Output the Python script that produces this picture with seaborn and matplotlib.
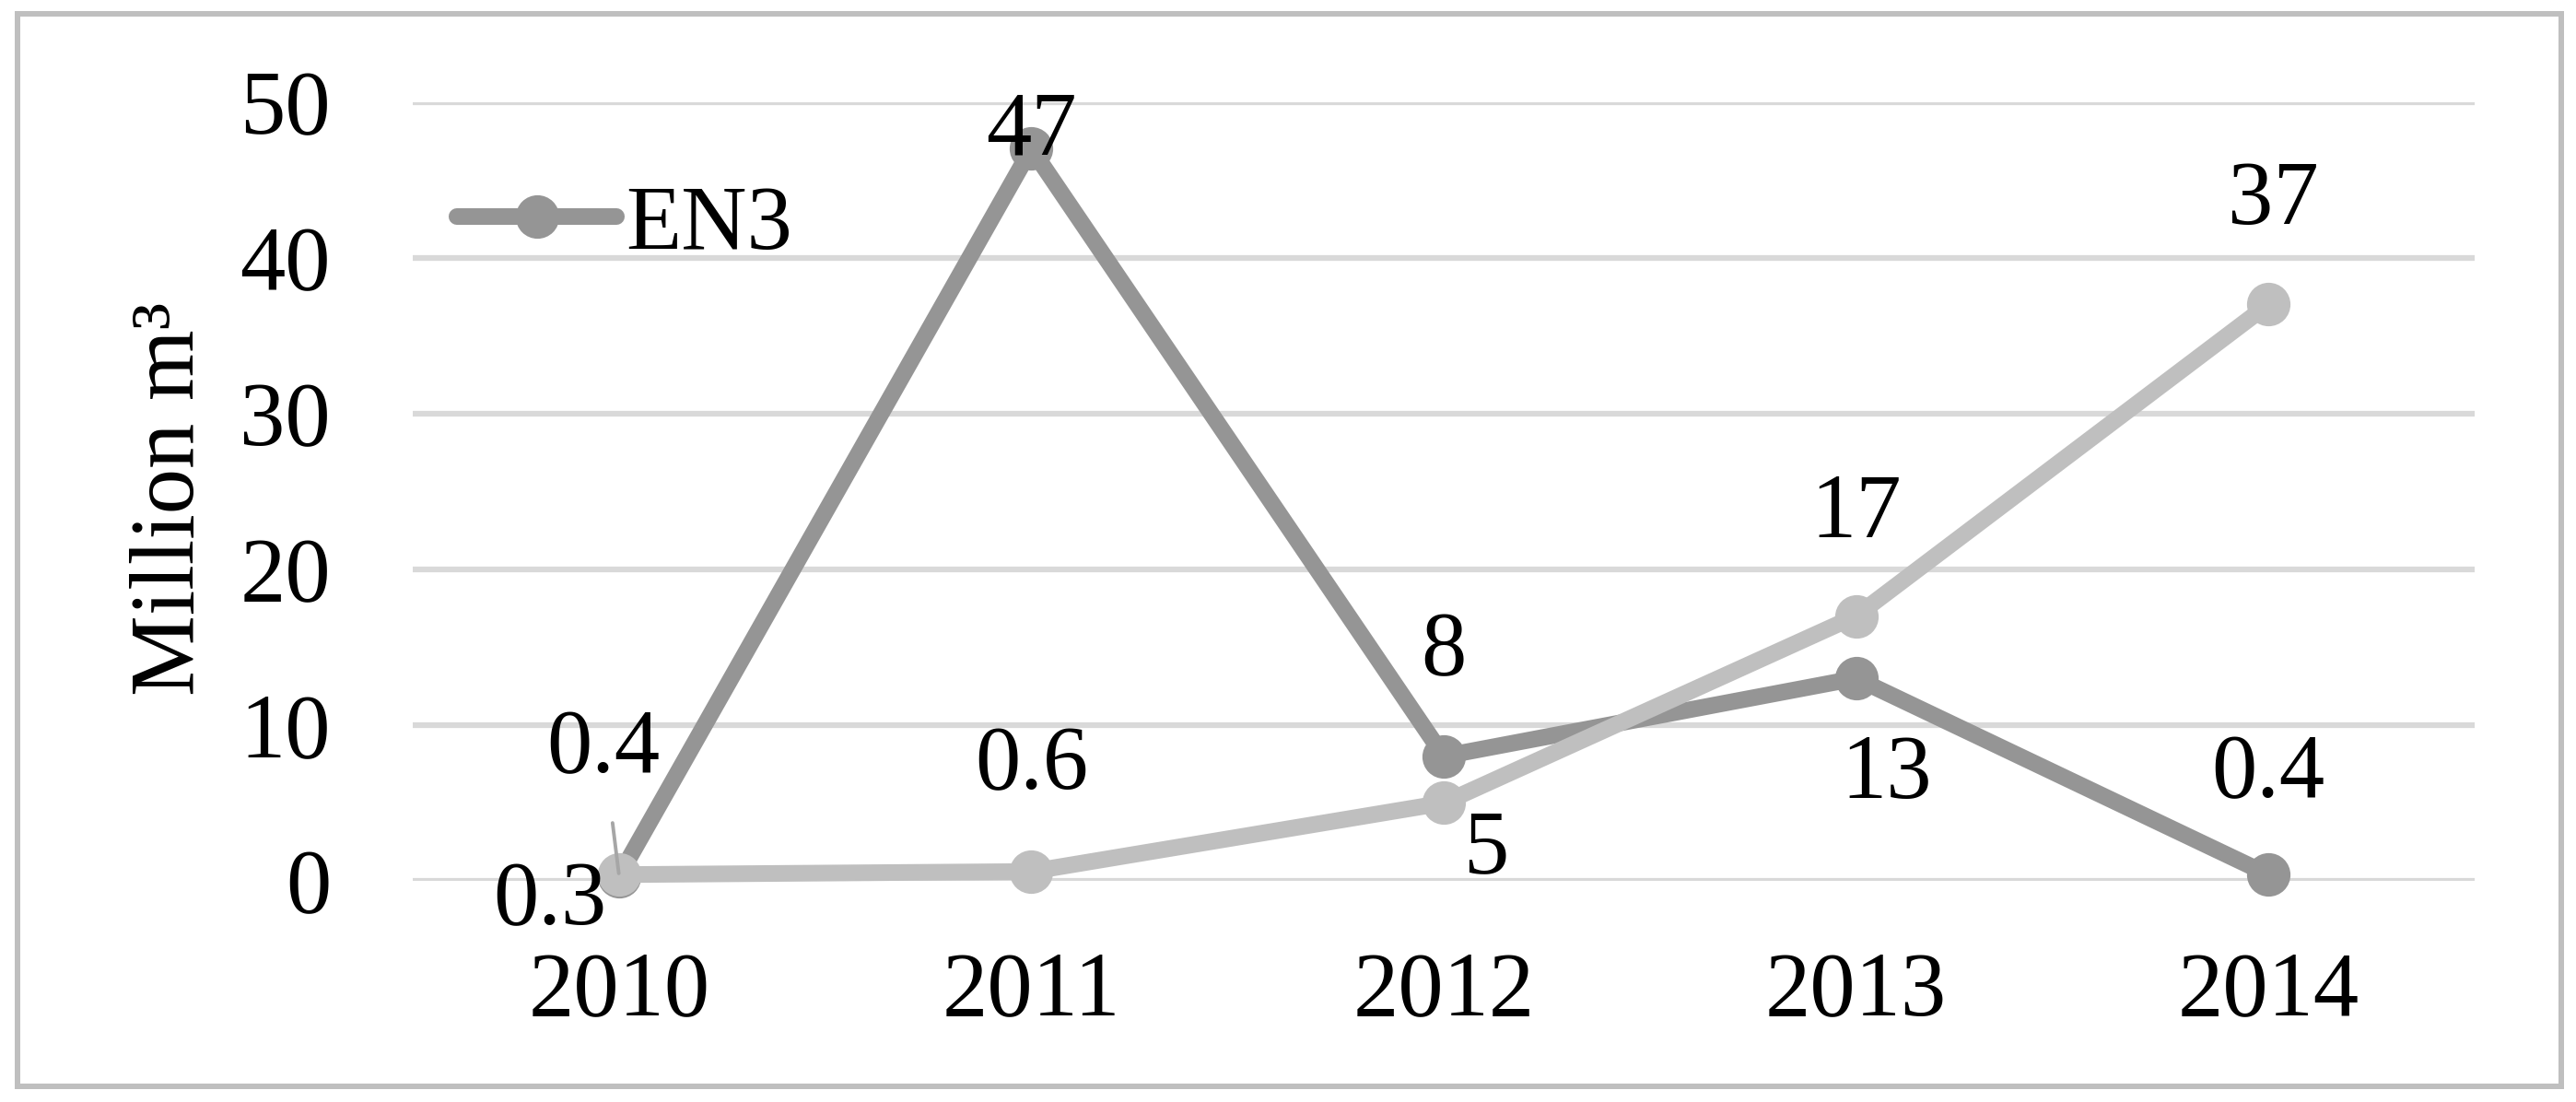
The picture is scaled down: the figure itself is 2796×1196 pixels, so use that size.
import matplotlib
matplotlib.use("Agg")
import matplotlib.pyplot as plt
import seaborn as sns
import pandas as pd
from matplotlib.patches import Rectangle

years = ["2010", "2011", "2012", "2013", "2014"]
en3_values = [0.3, 47, 8, 13, 0.4]
other_values = [0.4, 0.6, 5, 17, 37]
en3_labels = ["0.3", "47", "8", "13", "0.4"]
other_labels = ["0.4", "0.6", "5", "17", "37"]
y_ticks = [0, 10, 20, 30, 40, 50]

sns.set_theme(style="white")
plt.rcParams['font.family'] = ['Liberation Serif', 'DejaVu Serif']
plt.rcParams['text.color'] = 'black'
plt.rcParams['xtick.color'] = 'black'
plt.rcParams['ytick.color'] = 'black'
plt.rcParams['axes.labelcolor'] = 'black'

W, H, DPI = 2796, 1196, 100
fig = plt.figure(figsize=(W / DPI, H / DPI), dpi=DPI)
left, right, top, bottom = 448, 2686, 110.5, 956
ax = fig.add_axes([left / W, 1 - bottom / H, (right - left) / W, (bottom - top) / H])

FS = 71
dark = "#959595"
light = "#BFBFBF"

df = pd.DataFrame({"x": range(len(years)), "EN3": en3_values, "other": other_values})

# grid lines
for t in y_ticks:
    ax.axhline(t, color="#D9D9D9", lw=4.5, zorder=0)

sns.lineplot(data=df, x="x", y="EN3", ax=ax, color=dark, lw=13, marker="o",
             markersize=34, markeredgewidth=0, label="EN3", clip_on=False, zorder=3)
sns.lineplot(data=df, x="x", y="other", ax=ax, color=light, lw=13, marker="o",
             markersize=34, markeredgewidth=0, label="_other", clip_on=False, zorder=4)

ax.set_xlim(-0.5, len(years) - 0.5)
ax.set_ylim(0, 50)
ax.set_xticks(range(len(years)))
ax.set_xticklabels(years)
ax.set_yticks(y_ticks)
ax.set_yticklabels([str(t) for t in y_ticks])
ax.tick_params(axis="both", length=0, labelsize=FS, colors="black")
ax.tick_params(axis="x", pad=55)
ax.tick_params(axis="y", pad=64)
for s in ax.spines.values():
    s.set_visible(False)
ax.set_xlabel("")
ax.set_ylabel("Million m³", fontsize=FS, color="black")
ax.yaxis.set_label_coords(-0.097, 0.49)

# data labels (offsets in points)
en3_off = [(-54, -20), (0, 13), (0, 81), (24, -76), (0, 78)]
other_off = [(-12, 97), (0, 82), (33, -37), (0, 79), (4, 80)]
for i, (v, lab, off) in enumerate(zip(en3_values, en3_labels, en3_off)):
    ax.annotate(lab, (i, v), xytext=off, textcoords="offset points",
                ha="center", va="center", fontsize=FS, color="black",
                zorder=6, annotation_clip=False)
for i, (v, lab, off) in enumerate(zip(other_values, other_labels, other_off)):
    kw = {}
    if i == 0:
        kw["arrowprops"] = dict(arrowstyle="-", color="#A6A6A6", lw=2.8, shrinkA=22, shrinkB=1)
    ax.annotate(lab, (i, v), xytext=off, textcoords="offset points",
                ha="center", va="center", fontsize=FS, color="black",
                zorder=6, annotation_clip=False, **kw)

leg = ax.legend(loc="upper left", bbox_to_anchor=(0.004, 0.94), frameon=False,
                fontsize=FS, handlelength=1.75, handletextpad=0.1, borderaxespad=0)
for t in leg.get_texts():
    t.set_color("black")

fig.patches.append(Rectangle((19 / W, 1 - 1179 / H), (2780 - 19) / W, (1179 - 15) / H,
                             transform=fig.transFigure, fill=False, edgecolor="#BFBFBF",
                             lw=4.3, zorder=10))

fig.savefig("out.png", dpi=DPI, facecolor="white")
